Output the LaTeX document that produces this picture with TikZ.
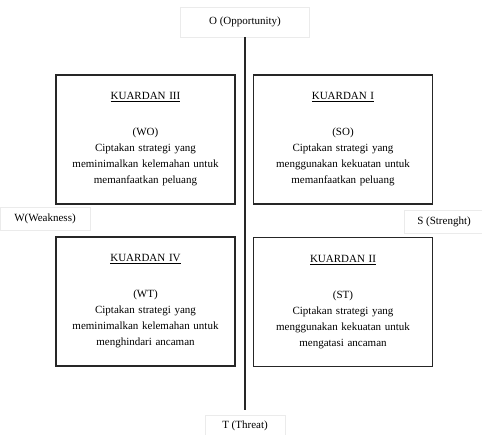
\documentclass[tikz,border=0pt]{standalone}
\usepackage{fontspec}
\setmainfont{Liberation Serif}
\usepackage{tikz}

\begin{document}
\begin{tikzpicture}[x=1pt,y=-1pt,
    kuadran/.style={draw=black!85,line width=1.6pt,minimum width=179pt,minimum height=129pt,
        text width=172pt,align=center,inner sep=0pt,font=\fontsize{11}{16}\selectfont},
    sumbu/.style={draw=black!8,line width=0.6pt,inner sep=0pt,font=\fontsize{11}{13}\selectfont}]
\useasboundingbox (0,0) rectangle (482,435);
% kuadran
\node[kuadran] (k3) at (145.5,139.5) {\underline{KUARDAN III}\\[20pt] (WO)\\ Ciptakan strategi yang\\ meminimalkan kelemahan untuk\\ memanfaatkan peluang};
\node[kuadran] (k1) at (343,139.5) {\underline{KUARDAN I}\\[20pt] (SO)\\ Ciptakan strategi yang\\ menggunakan kekuatan untuk\\ memanfaatkan peluang};
\node[kuadran] (k4) at (145.5,301.5) {\underline{KUARDAN IV}\\[20pt] (WT)\\ Ciptakan strategi yang\\ meminimalkan kelemahan untuk\\ menghindari ancaman};
\node[kuadran] (k2) at (343,302) {\underline{KUARDAN II}\\[20pt] (ST)\\ Ciptakan strategi yang\\ menggunakan kekuatan untuk\\ mengatasi ancaman};
% label sumbu
\node[sumbu,minimum width=129pt,minimum height=30pt] (opp) at (245,22) {O (Opportunity)};
\node[sumbu,minimum width=80pt,minimum height=22pt] (thr) at (245,426) {T (Threat)};
\node[sumbu,minimum width=90pt,minimum height=23pt] (wea) at (45,218.5) {W(Weakness)};
\node[sumbu,minimum width=80pt,minimum height=23pt] (str) at (444,221.5) {S (Strenght)};
\draw[line width=1.6pt,black!85] (opp.south) -- ([yshift=5pt]thr.north);
\end{tikzpicture}
\end{document}
